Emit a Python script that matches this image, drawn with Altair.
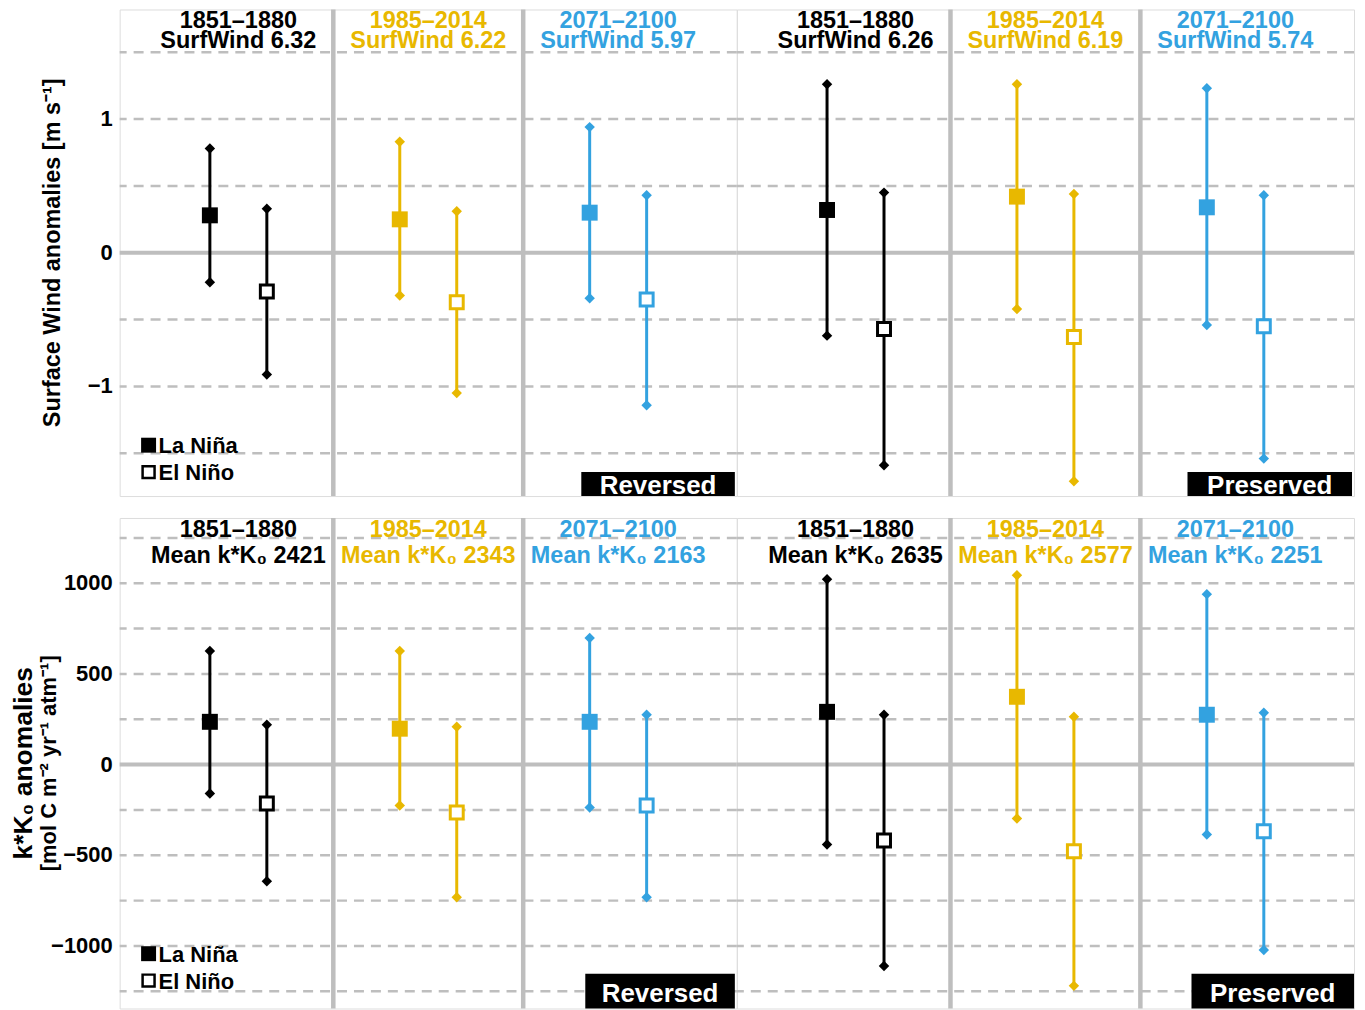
import altair as alt
import pandas as pd

# ---------------- data ----------------
periods = ["1851–1880", "1985–2014", "2071–2100"]
period_colors = ["#000000", "#E8B800", "#33A2E0"]
group_labels = ["Reversed", "Preserved"]
event_names = ["La Niña", "El Niño"]

# top row: Surface wind anomalies [m s-1]; six panels (two groups of three periods)
wind_means = [6.32, 6.22, 5.97, 6.26, 6.19, 5.74]
wind_lanina_low = [-0.22, -0.32, -0.34, -0.62, -0.42, -0.54]
wind_lanina_mean = [0.28, 0.25, 0.30, 0.32, 0.42, 0.34]
wind_lanina_high = [0.78, 0.83, 0.94, 1.26, 1.26, 1.23]
wind_elnino_low = [-0.91, -1.05, -1.14, -1.59, -1.71, -1.54]
wind_elnino_mean = [-0.29, -0.37, -0.35, -0.57, -0.63, -0.55]
wind_elnino_high = [0.33, 0.31, 0.43, 0.45, 0.44, 0.43]

# bottom row: k*K0 anomalies [mol C m-2 yr-1 atm-1]
kk_means = [2421, 2343, 2163, 2635, 2577, 2251]
kk_lanina_low = [-159, -225, -236, -440, -297, -385]
kk_lanina_mean = [236, 198, 236, 291, 374, 275]
kk_lanina_high = [626, 626, 698, 1022, 1044, 940]
kk_elnino_low = [-643, -731, -731, -1110, -1220, -1022]
kk_elnino_mean = [-214, -264, -225, -418, -478, -368]
kk_elnino_high = [220, 209, 275, 275, 264, 286]

# gridlines and tick labels
wind_grid = [-1.5, -1, -0.5, 0.5, 1, 1.5]
wind_tick_values = [-1, 0, 1]
wind_tick_labels = ["−1", "0", "1"]
kk_grid = [-1250, -1000, -750, -500, -250, 250, 500, 750, 1000, 1250]
kk_tick_values = [-1000, -500, 0, 500, 1000]
kk_tick_labels = ["−1000", "−500", "0", "500", "1000"]

# ---------------- style ----------------
FONT = "Liberation Sans"
GRAY = "#BEBEBE"
W = 619
H_TOP = 488
H_BOT = 492
OFFSET = 0.15  # horizontal offset of La Niña / El Niño inside a panel

rows = [
    dict(
        name="wind", means=wind_means,
        lo=(wind_lanina_low, wind_elnino_low),
        mid=(wind_lanina_mean, wind_elnino_mean),
        hi=(wind_lanina_high, wind_elnino_high),
        domain=[-1.82, 1.82], grid=wind_grid,
        tick_values=wind_tick_values, tick_labels=wind_tick_labels, height=H_TOP,
        line2=lambda m: f"SurfWind {m:.2f}", base1=19, base2=39,
        boxes=[(463, 617, 464, 488, 486), (452, 617, 464, 488, 486)],
    ),
    dict(
        name="kk", means=kk_means,
        lo=(kk_lanina_low, kk_elnino_low),
        mid=(kk_lanina_mean, kk_elnino_mean),
        hi=(kk_lanina_high, kk_elnino_high),
        domain=[-1345, 1360], grid=kk_grid,
        tick_values=kk_tick_values, tick_labels=kk_tick_labels, height=H_BOT,
        line2=lambda m: f"Mean k*K₀ {m}", base1=19, base2=45,
        boxes=[(467, 617, 457, 492, 485), (456, 619, 457, 492, 485)],
    ),
]

color_scale = alt.Scale(domain=periods, range=period_colors)
x_scale = alt.Scale(domain=[0.375, 3.625], nice=False, zero=False)


def group_chart(r, g):
    y_scale = alt.Scale(domain=r["domain"], nice=False, zero=False)

    def Y(f):
        return alt.Y(f, scale=y_scale, axis=None)

    recs = []
    for i in range(3):
        idx = g * 3 + i
        for e in range(2):
            recs.append(dict(
                xpos=(i + 1) + (-OFFSET if e == 0 else OFFSET),
                period=periods[i], event=event_names[e],
                lo=r["lo"][e][idx], mid=r["mid"][e][idx], hi=r["hi"][e][idx],
            ))
    df = pd.DataFrame(recs)
    titles = pd.DataFrame(dict(
        xpos=[1, 2, 3], period=periods,
        line1=periods,
        line2=[r["line2"](r["means"][g * 3 + i]) for i in range(3)],
    ))

    grid = alt.Chart(pd.DataFrame({"v": r["grid"]})).mark_rule(
        color=GRAY, strokeWidth=2.5, strokeDash=[10, 7]).encode(y=Y("v:Q"))
    zero = alt.Chart(pd.DataFrame({"v": [0]})).mark_rule(color=GRAY, strokeWidth=4).encode(y=Y("v:Q"))
    seps = alt.Chart(pd.DataFrame({"s": [1.5, 2.5]})).mark_rule(color=GRAY, strokeWidth=4.5).encode(
        x=alt.X("s:Q", scale=x_scale, axis=None))
    X = alt.X("xpos:Q", scale=x_scale, axis=None)
    C = alt.Color("period:N", scale=color_scale, legend=None)

    base = alt.Chart(df)
    bars = base.mark_rule(strokeWidth=3).encode(
        x=X, y=Y("lo:Q"), y2="hi:Q", color=C)
    dlo = base.mark_point(shape="diamond", filled=True, size=110, opacity=1).encode(
        x=X, y=Y("lo:Q"), color=C)
    dhi = base.mark_point(shape="diamond", filled=True, size=110, opacity=1).encode(
        x=X, y=Y("hi:Q"), color=C)
    sq_fill = base.transform_filter(alt.datum.event == "La Niña").mark_point(
        shape="square", filled=True, size=256, opacity=1).encode(
        x=X, y=Y("mid:Q"), color=C)
    sq_open = base.transform_filter(alt.datum.event == "El Niño").mark_point(
        shape="square", filled=False, fill="white", fillOpacity=1, size=169, strokeWidth=3, opacity=1).encode(
        x=X, y=Y("mid:Q"), stroke=alt.Stroke("period:N", scale=color_scale, legend=None))
    t1 = alt.Chart(titles).mark_text(font=FONT, fontSize=23.5, fontWeight="bold", baseline="alphabetic",
                                     align="center").encode(
        x=X, y=alt.value(r["base1"]), text="line1:N", color=C)
    t2 = alt.Chart(titles).mark_text(font=FONT, fontSize=23.5, fontWeight="bold", baseline="alphabetic",
                                     align="center").encode(
        x=X, y=alt.value(r["base2"]), text="line2:N", color=C)

    bx0, bx1, by0, by1, bbase = r["boxes"][g]
    lab = pd.DataFrame({"label": [group_labels[g]]})
    box = alt.Chart(lab).mark_rect(color="black").encode(
        x=alt.value(bx0), x2=alt.value(bx1), y=alt.value(by0), y2=alt.value(by1))
    boxt = alt.Chart(lab).mark_text(font=FONT, fontSize=26, fontWeight="bold", color="white",
                                    baseline="alphabetic", align="center").encode(
        x=alt.value((bx0 + bx1) / 2), y=alt.value(bbase), text="label:N")

    layers = [grid, zero, seps, bars, dlo, dhi, sq_fill, sq_open, t1, t2, box, boxt]

    if g == 0:
        ticks = alt.Chart(pd.DataFrame({"v": r["tick_values"], "lab": r["tick_labels"]})).mark_text(
            font=FONT, fontSize=22, fontWeight="bold", align="right", baseline="middle", color="black").encode(
            x=alt.value(-7), y=Y("v:Q"), text="lab:N")
        leg = pd.DataFrame({"event": event_names})
        lf = alt.Chart(leg).transform_filter(alt.datum.event == "La Niña").mark_point(
            shape="square", filled=True, color="black", size=225, opacity=1).encode(
            x=alt.value(29), y=alt.value(437))
        lo_ = alt.Chart(leg).transform_filter(alt.datum.event == "El Niño").mark_point(
            shape="square", filled=False, fill="white", stroke="black", strokeWidth=2.5, size=144, opacity=1).encode(
            x=alt.value(29), y=alt.value(464))
        lt1 = alt.Chart(leg).transform_filter(alt.datum.event == "La Niña").mark_text(
            font=FONT, fontSize=22, fontWeight="bold", align="left", baseline="alphabetic").encode(
            x=alt.value(39), y=alt.value(445), text="event:N")
        lt2 = alt.Chart(leg).transform_filter(alt.datum.event == "El Niño").mark_text(
            font=FONT, fontSize=22, fontWeight="bold", align="left", baseline="alphabetic").encode(
            x=alt.value(39), y=alt.value(472), text="event:N")
        layers += [ticks, lf, lo_, lt1, lt2]
        if r["name"] == "wind":
            yt = alt.Chart(pd.DataFrame({"t": ["Surface Wind anomalies [m s⁻¹]"]})).mark_text(
                font=FONT, fontSize=23.5, fontWeight="bold", angle=270, align="center", baseline="middle").encode(
                x=alt.value(-67), y=alt.value(r["height"] / 2), text="t:N")
            layers.append(yt)
        else:
            yt1 = alt.Chart(pd.DataFrame({"t": ["k*K₀ anomalies"]})).mark_text(
                font=FONT, fontSize=26.5, fontWeight="bold", angle=270, align="center", baseline="middle").encode(
                x=alt.value(-96), y=alt.value(r["height"] / 2), text="t:N")
            yt2 = alt.Chart(pd.DataFrame({"t": ["[mol C m⁻²  yr⁻¹  atm⁻¹]"]})).mark_text(
                font=FONT, fontSize=22, fontWeight="bold", angle=270, align="center", baseline="middle").encode(
                x=alt.value(-71), y=alt.value(r["height"] / 2), text="t:N")
            layers += [yt1, yt2]

    return alt.layer(*layers).properties(width=W, height=r["height"])


top = alt.hconcat(group_chart(rows[0], 0), group_chart(rows[0], 1), spacing=0, bounds="flush")
bot = alt.hconcat(group_chart(rows[1], 0), group_chart(rows[1], 1), spacing=0, bounds="flush")

chart = alt.vconcat(top, bot, spacing=15).properties(
    padding={"top": -3, "left": 2, "right": 0, "bottom": 0}
).configure_view(
    stroke=GRAY, strokeWidth=4.5
).configure(font=FONT)

chart.save("out.html", embed_options={"renderer": "svg", "actions": False})
